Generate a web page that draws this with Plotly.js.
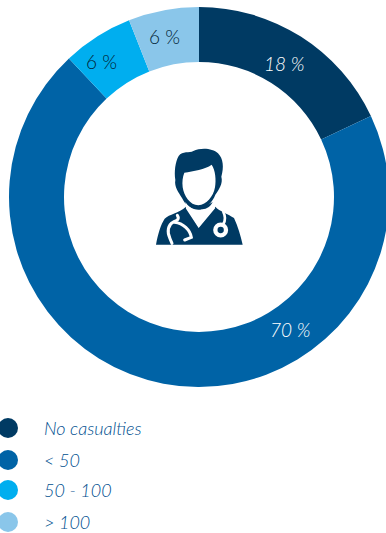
<!DOCTYPE html>
<html>
<head>
<meta charset="utf-8">
<script src="https://cdn.plot.ly/plotly-3.0.1.min.js"></script>
<style>
html,body{margin:0;padding:0;background:#fff;overflow:hidden;width:386px;height:533px}
</style>
</head>
<body>
<div id="chart"></div>
<script>
// Share of events by casualty band
const categories = ['No casualties', '< 50', '50 - 100', '> 100'];
const shares = [18, 70, 6, 6];
const sliceColors = ['#003a63', '#0063a6', '#00aeef', '#8ac6ea'];
const labelColors = ['#ffffff', '#ffffff', '#001d33', '#001d33'];
const labelStyles = ['italic', 'italic', 'normal', 'normal'];
const labelX = [284, 290, 101, 164];
const labelY = [63, 329, 62, 36];
const labelOrder = [0, 1, 2, 3];
const legendY = [428, 460, 490, 522];

const W = 398, H = 533;
const px = x => x / W;
const py = y => 1 - y / H;

// Doctor pictogram drawn in its own 390 unit box
const icon = `<svg xmlns="http://www.w3.org/2000/svg" viewBox="0 0 390 390" width="390" height="390">
<g fill="#003a63">
<path d="M136 150 C132 125 136 95 146 78 C158 62 178 70 190 63 C212 52 248 54 264 70 C280 86 282 112 274 140 C280 160 266 180 256 194 C248 216 228 236 205 242 C185 238 166 226 156 204 C146 188 132 170 136 150Z"/>
<path d="M78 344 C84 312 92 284 104 266 C118 252 146 250 168 230 L206 292 L256 230 C268 244 296 252 312 264 C324 290 332 318 338 344Z"/>
</g>
<path fill="#fff" d="M163 128 C190 124 225 118 245 104 C256 120 259 150 255 172 C250 200 230 224 205 226 C180 226 162 198 158 172 C156 155 158 140 163 128Z"/>
<path fill="#fff" d="M166 216 C174 228 182 234 194 238 C212 242 232 236 246 218 L256 234 L206 294 L168 236Z"/>
<path fill="#003a63" d="M192 226 C206 232 228 230 248 216 C238 238 212 246 192 226Z"/>
<g fill="none" stroke="#fff" stroke-linecap="round">
<path stroke-width="9" d="M142 256 C150 268 140 272 130 276 C114 284 110 304 120 326 L126 340"/>
<path stroke-width="9" d="M134 277 C160 280 180 300 184 322 L164 330"/>
<path stroke-width="8" d="M280 246 C288 262 286 272 280 282"/>
<circle cx="272" cy="300" r="16" stroke-width="13"/>
</g>
</svg>`;

const shapes = categories.map((c, i) => ({
  type: 'circle', xref: 'paper', yref: 'paper',
  x0: px(-2), x1: px(18), y0: py(legendY[i] - 10), y1: py(legendY[i] + 10),
  fillcolor: sliceColors[i], line: {width: 0}
}));

const legendText = categories.map((c, i) => ({
  text: c.replace('<', '&lt;'), xref: 'paper', yref: 'paper', xanchor: 'left', yanchor: 'middle',
  x: px(42), y: py(legendY[i]), showarrow: false,
  font: {family: 'Lato, sans-serif', size: 18, weight: 300, color: '#004f8f', style: 'italic'}
}));

const sliceText = labelOrder.map(i => ({
  text: shares[i] + ' %', xref: 'paper', yref: 'paper', xanchor: 'center', yanchor: 'middle',
  x: px(labelX[i]), y: py(labelY[i]), showarrow: false,
  font: {family: 'Lato, sans-serif', size: 19, weight: 300, color: labelColors[i], style: labelStyles[i]}
}));

Plotly.newPlot('chart', [{
  type: 'pie',
  labels: categories,
  values: shares,
  hole: 135 / 190,
  sort: false,
  direction: 'clockwise',
  rotation: 0,
  textinfo: 'none',
  marker: {colors: sliceColors, line: {width: 0}},
  domain: {x: [0, 1], y: [py(387), py(7)]},
  showlegend: false
}], {
  width: W, height: H,
  margin: {l: 0, r: 0, t: 0, b: 0},
  paper_bgcolor: '#ffffff',
  showlegend: false,
  shapes: shapes,
  annotations: sliceText.concat(legendText),
  images: [{
    source: 'data:image/svg+xml;utf8,' + encodeURIComponent(icon),
    xref: 'paper', yref: 'paper', x: px(130), y: py(130),
    sizex: 130 / W, sizey: 130 / H, xanchor: 'left', yanchor: 'top', layer: 'above'
  }]
}, {displayModeBar: false, staticPlot: true});
</script>
</body>
</html>
